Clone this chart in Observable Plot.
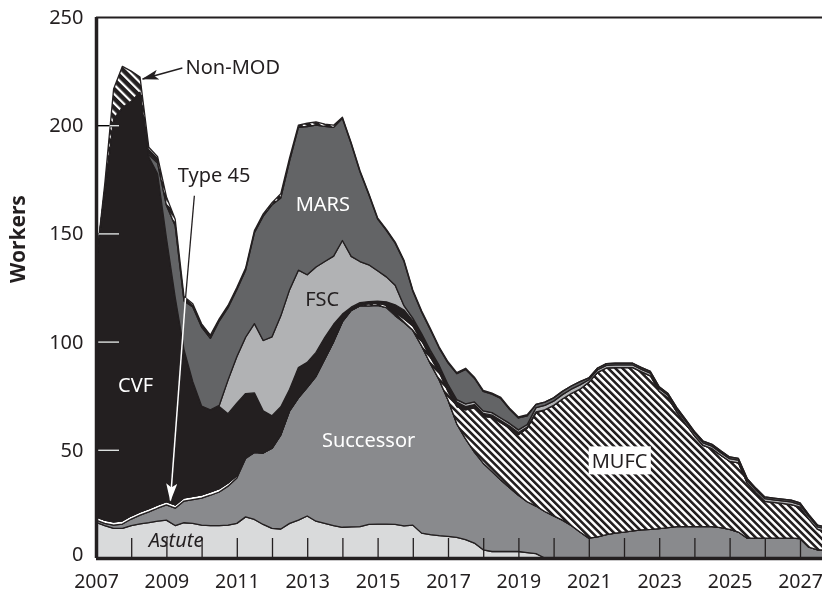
<!DOCTYPE html>
<html>
<head>
<meta charset="utf-8">
<script src="https://cdn.jsdelivr.net/npm/d3@7"></script>
<script src="https://cdn.jsdelivr.net/npm/@observablehq/plot@0.6"></script>
<style>
  body { margin: 0; background: #fff; }
  svg { display: block; }
</style>
</head>
<body>
<div id="chart"></div>
<script>
// ---- data (quarterly, workers) ----
const years = [2007,2007.25,2007.5,2007.75,2008,2008.25,2008.5,2008.75,2009,2009.25,2009.5,2009.75,
  2010,2010.25,2010.5,2010.75,2011,2011.25,2011.5,2011.75,2012,2012.25,2012.5,2012.75,
  2013,2013.25,2013.5,2013.75,2014,2014.25,2014.5,2014.75,2015,2015.25,2015.5,2015.75,
  2016,2016.25,2016.5,2016.75,2017,2017.25,2017.5,2017.75,2018,2018.25,2018.5,2018.75,
  2019,2019.25,2019.5,2019.75,2020,2020.25,2020.5,2020.75,2021,2021.25,2021.5,2021.75,
  2022,2022.25,2022.5,2022.75,2023,2023.25,2023.5,2023.75,2024,2024.25,2024.5,2024.75,
  2025,2025.25,2025.5,2025.75,2026,2026.25,2026.5,2026.75,2027,2027.25,2027.5,2027.75];

const seriesNames = ["Astute", "Successor", "Type 45", "MUFC", "CVF", "FSC", "MARS", "Non-MOD"];

const astute = [16.5,15,13.7,13.7,15,15.8,16.3,17,17.5,15,16.3,16,15.2,15,15,15.2,16,19,17.8,15.5,
  13.7,13.4,16,17.5,19.4,17,16,15,14.2,14.4,14.5,15.5,15.7,15.7,15.5,14.8,15.2,11.5,10.8,10.3,
  10,9.5,8.5,6.9,3.8,3,3,3,3,2.5,2,0,0,0,0,0,0,0,0,0,
  0,0,0,0,0,0,0,0,0,0,0,0,0,0,0,0,0,0,0,0,0,0,0,0];

const successor = [1,1,1.5,2,3,4,5,6,7,8,10,11,12.5,14,15.5,18,21,27,31,33,
  37,43.5,52,56.5,59.5,67,76,85,95,100,102,101,101,100,96.5,94,90,86.5,79,72,
  63,52.5,46.5,42,40,37,33,29.5,26,23.5,22,21.5,19.5,17.5,15,12,9.2,9.8,10.8,11.5,
  12,12.5,13,13.2,13.6,14,14.5,14.5,14.5,14.5,14.5,14,13.2,12,9.2,9.2,9.2,9.2,9.2,9.2,
  9,5,3.7,3.7];

const type45 = [1.5,1.5,1.5,1.5,1.5,1.5,1.5,1.5,1.5,1.5,1.5,1.5,1.5,1.5,1.5,1.5,1,0.5,0,0,
  0,0,0,0,0,0,0,0,0,0,0,0,0,0,0,0,0,0,0,0,0,0,0,0,0,0,0,0,0,0,0,0,0,0,0,0,0,0,0,0,
  0,0,0,0,0,0,0,0,0,0,0,0,0,0,0,0,0,0,0,0,0,0,0,0];

const mufc = [0,0,0,0,0,0,0,0,0,0,0,0,0,0,0,0,0,0,0,0,0,0,0,0,0,0,0,0,0,0,
  0.5,1,1,1.2,1.5,1.8,2,2.5,3,3.5,
  4,8,13.5,20.5,21.5,25,26.5,27.5,28,34,
  43,47,51,56,61,66,72,76,77,76.5,
  76,75.5,73,71,63.5,60,53,47.5,42,37.5,
  36,33.5,31.5,32,25.5,21,17,16.5,16,15.5,
  14.5,13,9.5,8.5];

const cvf = [117,152.5,186,191,191.5,194,162.5,153,122,96,
  68.5,53,41,38,38,32,33.5,29.5,27.5,19.5,
  15,13,10,14,11.5,11,10,8,3.5,1.5,
  1,1,1,1.5,3.5,4,2.5,2,2,2,
  2,2,1.5,1.5,1.5,1,1,1,1,0.5,
  0.5,0,0,0,0,0,0,0,0,0,0,0,0,0,0,0,0,0,0,0,0,0,0,0,0,0,0,0,0,0,0,0,0,0];

const fsc = [0,0,0,0,0,0,0,0,0,0,0,0,0,0,0.5,15.5,21.5,26,32,32.5,
  36.5,42,46,45,40.5,39.5,35,31.5,34,23.5,
  19,17,14,11.5,9,2,1.2,1.2,1.2,1.2,
  1.2,1.2,1.2,1.2,1.2,1.2,1.2,1.2,1.2,1.2,
  2,2,2,2,2,2,1.2,1.2,1.2,1.2,1.2,1.2,1.2,1.2,1.2,1.2,1.2,1.2,1.2,1.2,
  1.2,1.2,1.2,1.2,1.2,1.2,1.2,1.2,1.2,1.2,1.2,1.2,1.2,1.2];

const mars = [0,0,0,0,0,0,1,5,15,33,
  22.5,34.5,36.5,33,39,33.5,31,31,42,57.5,
  61,54.5,59.5,66,68.5,65.5,62.5,59.5,56.5,52,
  41.5,32.5,24,21.5,19.5,20.5,12.5,10,9.5,8,
  10,12,16,11,9,8.5,9,6.5,5.5,4,
  1.5,1.5,1.5,1.5,1.5,1.5,0.8,0.8,0.8,0.8,0.8,0.8,0.8,0.8,0.8,0.8,0.8,0.8,0.8,0.8,
  0.8,0.8,0.8,0.8,0.8,0.8,0.8,0.8,0.8,0.8,0.8,0.8,0.8,0.8];

const nonMod = [0,3,14,19,14,7,3.5,3,4,3,
  2,1.5,1.5,1.5,1,1,1,1,1,1,
  1,2,1.5,1,1.5,1.5,1,1,0.5,0.5,
  0.5,0.5,0.5,0.5,0.5,0.5,0.5,0.5,0.5,0.5,0.5,0.5,0.5,0.5,0.5,0.5,0.5,0.5,0.5,0.5,
  0,0,0,0,0,0,0,0,0,0,0,0,0,0,0,0,0,0,0,0,0,0,0,0,0,0,0,0,0,0,0,0,0,0];

const xTickLabels = [2007,2009,2011,2013,2015,2017,2019,2021,2023,2025,2027];
const xTickMarks = [2008,2009,2010,2011,2012,2013,2014,2015,2016,2017,2018,2019,2020,2021,2022,2023,2024,2025,2026,2027];
const yTickLabels = [50,100,150,200,250];
const yZeroLabel = [0];
const yTickMarks = [50,100,150,200];

// annotation text (data coordinates)
const whiteLabels = [
  {name: "CVF", x: 2008.11, y: 79.9},
  {name: "Successor", x: 2014.73, y: 54.5},
  {name: "MARS", x: 2013.43, y: 163.7}
];
const darkLabels = [
  {name: "FSC", x: 2013.41, y: 119.8},
  {name: "Type 45", x: 2010.34, y: 176.8},
  {name: "MUFC", x: 2021.86, y: 44.6}
];
const italicLabels = [{name: "Astute", x: 2009.26, y: 8.3}];
const startLabels = [{name: "Non-MOD", x: 2009.53, y: 226.8}];
const nonModArrow = [{x1: 2009.44, y1: 226.7, x2: 2008.31, y2: 221.6}];
const type45ArrowUpper = [{x1: 2009.78, y1: 167.6, x2: 2009.53, y2: 120.5}];
const type45ArrowLower = [{x1: 2009.53, y1: 120.5, x2: 2009.10, y2: 26.8}];

// ---- build long table ----
const seriesValues = [astute, successor, type45, mufc, cvf, fsc, mars, nonMod];
const table = years.flatMap((year, i) =>
  seriesNames.map((name, j) => ({year, name, value: seriesValues[j][i]})));

const ink = "#231f20";
const colorRange = ["#d9dadb", "#898a8d", "#ffffff", "url(#hatchMUFC)", ink, "#b1b2b4", "#636466", "url(#hatchNonMOD)"];
const font = "'Noto Sans', 'Open Sans', sans-serif";

const svg = Plot.plot({
  width: 822,
  height: 594,
  marginLeft: 96,
  marginRight: 0,
  marginTop: 17,
  marginBottom: 36,
  style: {fontFamily: font, fontSize: "20px", color: ink, background: "white", overflow: "visible"},
  x: {domain: [2007, 2027.625], label: null},
  y: {domain: [0, 250], label: null},
  color: {domain: seriesNames, range: colorRange},
  marks: [
    Plot.areaY(table, {x: "year", y: "value", z: "name", fill: "name", order: seriesNames,
      stroke: ink, strokeWidth: 1.3, strokeLinejoin: "round", clip: true}),
    Plot.axisX({ticks: xTickLabels, tickFormat: "d", tickSize: 0, tickPadding: 16, fontSize: 19.5, label: null}),
    Plot.axisY({ticks: yTickLabels, tickSize: 0, tickPadding: 13, fontSize: 20, label: null}),
    Plot.text(yZeroLabel, {x: 2007, y: d => d, text: d => String(d), textAnchor: "end", dx: -13, dy: -3.5, fontSize: 20, fill: ink}),
    Plot.ruleX(xTickMarks, {x: d => d, y1: 0, y2: 0, insetTop: -20, stroke: ink, strokeWidth: 1.3}),
    Plot.ruleY(yTickMarks, {y: d => d, x1: 2007, x2: 2007, insetRight: -23, stroke: "white", strokeWidth: 1.4, mixBlendMode: "difference"}),
    Plot.ruleY([250], {stroke: ink, strokeWidth: 2}),
    Plot.ruleX([2007], {stroke: ink, strokeWidth: 3.5}),
    Plot.ruleY([0], {stroke: ink, strokeWidth: 3.5}),
    Plot.text(whiteLabels, {x: "x", y: "y", text: "name", fill: "white", fontSize: 20}),
    Plot.text(darkLabels, {x: "x", y: "y", text: "name", fill: ink, fontSize: 20}),
    Plot.text(italicLabels, {x: "x", y: "y", text: "name", fill: ink, fontSize: 20, fontStyle: "italic"}),
    Plot.text(startLabels, {x: "x", y: "y", text: "name", fill: ink, fontSize: 20, textAnchor: "start"}),
    Plot.text(["Workers"], {frameAnchor: "left", text: d => d, rotate: -90, dx: -78, dy: -5, fontWeight: "bold", fontSize: 21, fill: ink}),
    Plot.link(nonModArrow, {x1: "x1", y1: "y1", x2: "x2", y2: "y2", stroke: ink, strokeWidth: 1.5}),
    Plot.link(type45ArrowLower, {x1: "x1", y1: "y1", x2: "x2", y2: "y2", stroke: "white", strokeWidth: 1.5}),
    Plot.link(type45ArrowUpper, {x1: "x1", y1: "y1", x2: "x2", y2: "y2", stroke: ink, strokeWidth: 1.3})
  ]
});

const defs = document.createElementNS("http://www.w3.org/2000/svg", "defs");
defs.innerHTML = `
  <pattern id="hatchMUFC" patternUnits="userSpaceOnUse" width="5.1" height="5.1" patternTransform="rotate(-45)">
    <rect width="5.1" height="5.1" fill="#ffffff"/>
    <rect width="2.6" height="5.1" fill="${ink}"/>
  </pattern>
  <pattern id="hatchNonMOD" patternUnits="userSpaceOnUse" width="6.6" height="6.6" patternTransform="rotate(-45)">
    <rect width="6.6" height="6.6" fill="${ink}"/>
    <rect width="2.2" height="6.6" fill="#ffffff"/>
  </pattern>
  <marker id="ahBlack" viewBox="0 0 17 10" refX="16" refY="5" markerWidth="17" markerHeight="10" markerUnits="userSpaceOnUse" orient="auto">
    <path d="M0,0L17,5L0,10L4,5Z" fill="${ink}"/>
  </marker>
  <marker id="ahWhite" viewBox="0 0 18 11" refX="17" refY="5.5" markerWidth="18" markerHeight="11" markerUnits="userSpaceOnUse" orient="auto">
    <path d="M0,0L18,5.5L0,11L4,5.5Z" fill="#ffffff"/>
  </marker>`;
svg.insertBefore(defs, svg.firstChild);

document.getElementById("chart").appendChild(svg);

// attach custom arrowheads to the link marks (in mark order)
const linkGroups = svg.querySelectorAll('g[aria-label="link"]');
if (linkGroups[0]) linkGroups[0].querySelectorAll("path, line").forEach(p => p.setAttribute("marker-end", "url(#ahBlack)"));
if (linkGroups[1]) linkGroups[1].querySelectorAll("path, line").forEach(p => p.setAttribute("marker-end", "url(#ahWhite)"));

// white box behind the MUFC label
const svgBox = svg.getBoundingClientRect();
svg.querySelectorAll("text").forEach(t => {
  if (t.textContent === "MUFC") {
    const b = t.getBoundingClientRect();
    const r = document.createElementNS("http://www.w3.org/2000/svg", "rect");
    r.setAttribute("x", b.left - svgBox.left - 3);
    r.setAttribute("y", b.top - svgBox.top - 1);
    r.setAttribute("width", b.width + 6);
    r.setAttribute("height", b.height + 1);
    r.setAttribute("fill", "white");
    const g = t.closest("g");
    g.parentNode.insertBefore(r, g);
  }
});
</script>
</body>
</html>
